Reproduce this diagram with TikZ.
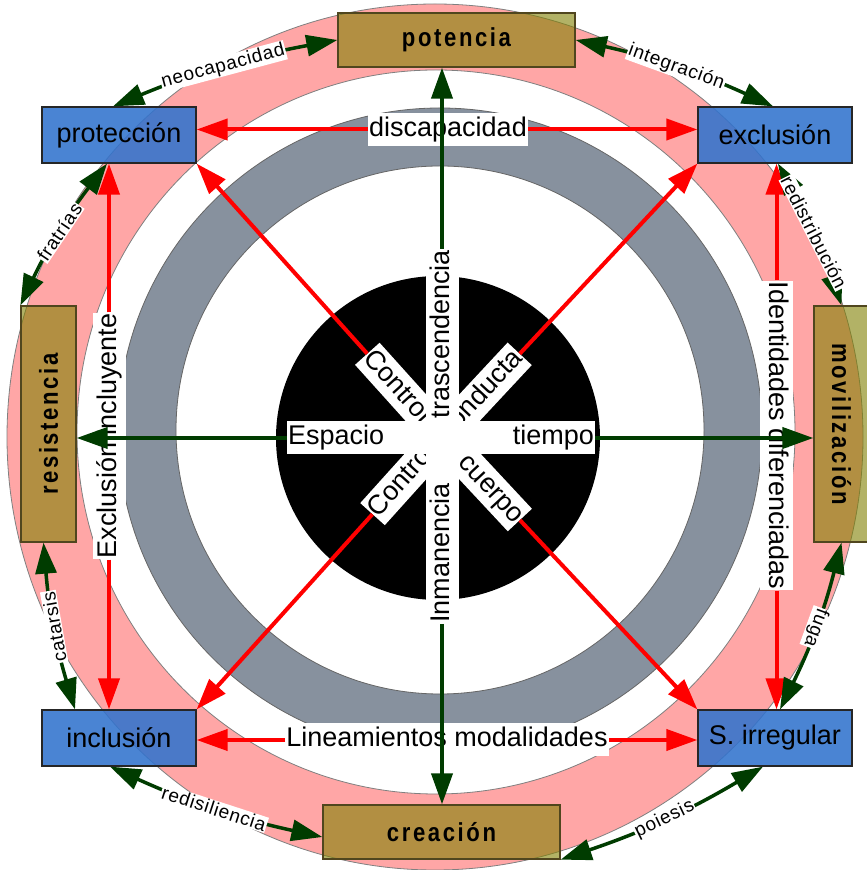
\documentclass[tikz,border=0pt]{standalone}
\usepackage{graphicx}
\usepackage{fontspec}
\setmainfont{Liberation Sans}
\newfontfamily\boxfont{Liberation Sans}[FakeStretch=0.85,LetterSpace=10]
\newfontfamily\arcfont{Liberation Sans}[LetterSpace=4]
\usetikzlibrary{arrows.meta,calc}

\definecolor{pinkring}{RGB}{255,166,166}
\definecolor{grayring}{RGB}{135,145,158}
\definecolor{boxblue}{RGB}{50,115,205}
\definecolor{boxgold}{RGB}{128,128,0}
\definecolor{golddraw}{RGB}{80,70,30}
\definecolor{darkgreen}{RGB}{0,60,0}
\definecolor{arrowred}{RGB}{255,0,0}

\begin{document}
\begin{tikzpicture}[x=1pt,y=1pt,>={Triangle[length=31pt,width=21pt]}]
    \tikzstyle{blue box}=[draw=black!85,line width=1.3pt,fill=boxblue,fill opacity=0.88,text opacity=1,
        minimum width=154pt,minimum height=56pt,font=\fontsize{27}{30}\selectfont]
    \tikzstyle{gold box}=[draw=golddraw,line width=1.3pt,fill=boxgold,fill opacity=0.6,text opacity=1,
        font=\boxfont\bfseries\fontsize{26}{29}\selectfont]
    \tikzstyle{word}=[fill=white,inner xsep=1pt,inner ysep=2.5pt,text height=21pt,text depth=7pt,
        font=\fontsize{27}{30}\selectfont]
    \tikzstyle{arc word}=[fill=white,inner sep=1pt,font=\arcfont\fontsize{19}{22}\selectfont]
    \tikzstyle{red arrow}=[->,draw=arrowred,line width=4pt]
    \tikzstyle{green arrow}=[->,draw=darkgreen,line width=4pt]
    \tikzstyle{arc arrow}=[<->,draw=darkgreen,line width=3.5pt,bend left=6]

    \useasboundingbox (0,0) rectangle (867,870);
    \fill[white] (0,0) rectangle (867,870);

    % rings
    \fill[pinkring,even odd rule] (435,433) ellipse [x radius=428pt,y radius=433pt]
        (436,438) ellipse [x radius=359pt,y radius=362pt];
    \draw[gray,line width=0.8pt] (435,433) ellipse [x radius=428pt,y radius=433pt];
    \draw[gray,line width=0.8pt] (436,438) ellipse [x radius=359pt,y radius=362pt];
    \fill[grayring,even odd rule] (440,440) circle [radius=322pt] (440,440) circle [radius=264pt];
    \draw[black!60,line width=0.8pt] (440,440) circle [radius=322pt];
    \draw[black!60,line width=0.8pt] (440,440) circle [radius=264pt];
    \fill[black] (438,432) circle [radius=162pt];
    \coordinate (O) at (442,433);

    % boxes
    \node[blue box] (prot) at (119,735) {protección};
    \node[blue box] (excl) at (775,735) {exclusión};
    \node[blue box] (incl) at (119,132) {inclusión};
    \node[blue box] (sirr) at (775,132) {S. irregular};
    \node[gold box,minimum width=237pt,minimum height=54pt] (pot) at (456.5,830) {potencia};
    \node[gold box,minimum width=237pt,minimum height=54pt] (crea) at (441.5,38) {creación};
    \node[gold box,minimum width=55pt,minimum height=236pt] (res) at (48.5,446) {\rotatebox{90}{resistencia}};
    \node[gold box,minimum width=55pt,minimum height=236pt] (mov) at (841.5,446) {\rotatebox{-90}{movilización}};

    % labels
    \node[word] (disc) at (448,740.5) {discapacidad};
    \node[word] (linea) at (447,130) {Lineamientos modalidades};
    \node[word,rotate=90] (exinc) at (109,434) {Exclusión incluyente};
    \node[word,rotate=-90] (ident) at (776.5,434.5) {Identidades diferenciadas};

    % center cross
    \node[word,rotate=-48,anchor=west,text width=110pt,align=left] (ctrla) at ($(O)!112pt!(prot.south east)$) {Control};
    \node[word,rotate=47,anchor=east,text width=112pt,align=right] (cond) at ($(O)!114pt!(excl.south west)$) {conducta};
    \node[word,rotate=48,anchor=west,text width=102pt,align=left] (ctrlb) at ($(O)!104pt!(incl.north east)$) {Control};
    \node[word,rotate=-47,anchor=east,text width=112pt,align=right] (cuer) at ($(O)!114pt!(sirr.north west)$) {cuerpo};
    \node[word,rotate=90,anchor=east,text width=185pt,align=right] (trasc) at (442,621) {trascendencia};
    \node[word,rotate=90,anchor=west,text width=185pt,align=left] (inm) at (442,246) {Inmanencia};
    \node[word,anchor=west,text width=153pt,align=left] (esp) at (287,432) {Espacio};
    \node[word,anchor=east,text width=151pt,align=right] (tiem) at (595,432) {tiempo\hspace*{12pt}};

    % red arrows
    \draw[red arrow] (disc.west) -- (disc.west -| prot.east);
    \draw[red arrow] (disc.east) -- (disc.east -| excl.west);
    \draw[red arrow] (linea.west) -- (linea.west -| incl.east);
    \draw[red arrow] (linea.east) -- (linea.east -| sirr.west);
    \draw[red arrow] (exinc.east) -- (exinc.east |- prot.south);
    \draw[red arrow] (exinc.west) -- (exinc.west |- incl.north);
    \draw[red arrow] (ident.west) -- (ident.west |- excl.south);
    \draw[red arrow] (ident.east) -- (ident.east |- sirr.north);
    \draw[red arrow] (ctrla.west) -- (prot.south east);
    \draw[red arrow] (cond.east) -- (excl.south west);
    \draw[red arrow] (ctrlb.west) -- (incl.north east);
    \draw[red arrow] (cuer.east) -- (sirr.north west);

    % green arrows
    \draw[green arrow] (trasc.east) -- (trasc.east |- pot.south);
    \draw[green arrow] (inm.west) -- (inm.west |- crea.north);
    \draw[green arrow] (esp.west) -- (esp.west -| res.east);
    \draw[green arrow] (tiem.east) -- (tiem.east -| mov.west);

    % outer ring
    \draw[arc arrow] ([xshift=-6pt]prot.north) to node[arc word,rotate=15] (neo) {neocapacidad} (pot.west);
    \draw[arc arrow] (pot.east) to node[arc word,rotate=-20] (integ) {integración} ([xshift=-2pt]excl.north);
    \draw[arc arrow] ([xshift=3pt]excl.south) to node[arc word,rotate=-63] (redis) {redistribución} (mov.north);
    \draw[arc arrow] (mov.south) to node[arc word,rotate=-110] (fuga) {fuga} ([xshift=5pt]sirr.north);
    \draw[arc arrow] ([xshift=-12pt]sirr.south) to node[arc word,rotate=26] (poie) {poiesis} (crea.south east);
    \draw[arc arrow] ([yshift=-5pt]crea.west) to node[arc word,rotate=-18] (resil) {redisiliencia} ([xshift=-9pt]incl.south);
    \draw[arc arrow] ([xshift=-44pt]incl.north) to node[arc word,rotate=100] (cata) {catarsis} ([xshift=-5pt]res.south);
    \draw[arc arrow] (res.north west) to node[arc word,rotate=56] (frat) {fratrías} ([xshift=-12pt]prot.south);
\end{tikzpicture}
\end{document}
